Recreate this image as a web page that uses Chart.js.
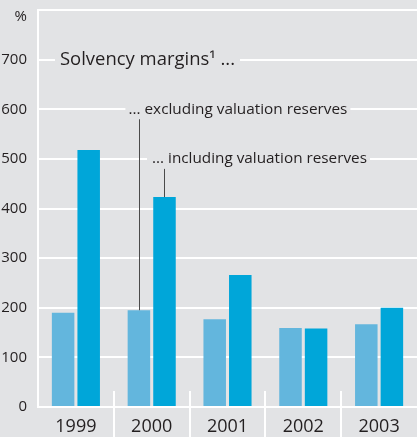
<!DOCTYPE html>
<html><head><meta charset="utf-8">
<script src="https://cdn.jsdelivr.net/npm/chart.js@4/dist/chart.umd.min.js"></script>
<style>html,body{margin:0;padding:0;background:#e2e3e5;overflow:hidden}</style>
</head><body>
<canvas id="c" width="417" height="437" style="display:block;width:417px;height:437px"></canvas>
<script>
const years = ['1999', '2000', '2001', '2002', '2003'];
const excludingReserves = [190, 195, 177, 159, 167];
const includingReserves = [518, 423, 266, 158, 200];
const yTickLabels = ['0', '100', '200', '300', '400', '500', '600', '700', ''];
const yUnitLabel = '%';
const titleText = 'Solvency margins\u00B9 ...';
const labelExcluding = '... excluding valuation reserves';
const labelIncluding = '... including valuation reserves';

const BG = '#e2e3e5';
const TXT = '#231f20';
const FONT = '"Open Sans", "Noto Sans", sans-serif';

function fittedText(ctx, text, x, yc, size, targetW) {
  ctx.save();
  ctx.font = size + 'px ' + FONT;
  const w = ctx.measureText(text).width;
  const s = targetW / w;
  ctx.translate(x, yc);
  ctx.scale(s, 1);
  ctx.fillStyle = TXT;
  ctx.textBaseline = 'middle';
  ctx.textAlign = 'left';
  ctx.fillText(text, 0, 0);
  ctx.restore();
}

const deco = {
  id: 'deco',
  beforeDraw(chart) {
    const ctx = chart.ctx;
    ctx.save();
    ctx.fillStyle = BG;
    ctx.fillRect(0, 0, chart.width, chart.height);
    ctx.restore();
  },
  afterDatasetsDraw(chart) {
    const { ctx, scales: { x, y }, chartArea } = chart;
    const y0 = y.getPixelForValue(0);
    ctx.save();
    ctx.strokeStyle = '#ffffff';
    ctx.lineWidth = 2;
    for (let i = 1; i < years.length; i++) {
      const bx = Math.round((x.getPixelForValue(i - 1) + x.getPixelForValue(i)) / 2);
      ctx.beginPath();
      ctx.moveTo(bx, y0 - 16);
      ctx.lineTo(bx, chart.height);
      ctx.stroke();
    }
    ctx.fillStyle = TXT;
    ctx.font = '15px ' + FONT;
    ctx.textAlign = 'right';
    ctx.textBaseline = 'middle';
    ctx.fillText(yUnitLabel, chartArea.left - 11, chartArea.top + 7);

    const barEx = chart.getDatasetMeta(0).data[1];
    const barIn = chart.getDatasetMeta(1).data[1];

    const yt = y.getPixelForValue(700);
    const tx = chartArea.left + 22;
    ctx.fillStyle = BG;
    ctx.fillRect(tx - 5, yt - 4, 185, 8);
    fittedText(ctx, titleText, tx, yt + 0.5, 17.5, 175);

    const ye = y.getPixelForValue(600);
    const ex = barEx.x - 10.5;
    ctx.fillStyle = BG;
    ctx.fillRect(ex - 3, ye - 4, 225, 8);
    fittedText(ctx, labelExcluding, ex, ye, 15, 219);

    const yi = y.getPixelForValue(500);
    const ix = barIn.x - 12.5;
    ctx.fillStyle = BG;
    ctx.fillRect(ix - 5, yi - 4, 223, 8);
    fittedText(ctx, labelIncluding, ix, yi, 15, 215);

    ctx.strokeStyle = '#4a4a4a';
    ctx.lineWidth = 1;
    ctx.beginPath();
    ctx.moveTo(Math.round(barEx.x) + 0.5, ye + 10);
    ctx.lineTo(Math.round(barEx.x) + 0.5, barEx.y);
    ctx.moveTo(Math.round(barIn.x) + 0.5, yi + 10);
    ctx.lineTo(Math.round(barIn.x) + 0.5, barIn.y);
    ctx.stroke();
    ctx.restore();
  }
};

new Chart(document.getElementById('c'), {
  type: 'bar',
  data: {
    labels: years,
    datasets: [
      { label: 'excluding valuation reserves', data: excludingReserves, backgroundColor: '#63b6dd', borderWidth: 0 },
      { label: 'including valuation reserves', data: includingReserves, backgroundColor: '#00a6d9', borderWidth: 0 }
    ]
  },
  options: {
    responsive: false,
    animation: false,
    devicePixelRatio: 1,
    categoryPercentage: 0.675,
    barPercentage: 0.88,
    layout: { padding: { top: 10, right: 0, left: 0, bottom: 0 } },
    plugins: { legend: { display: false }, tooltip: { enabled: false } },
    scales: {
      x: {
        grid: { display: false },
        border: { display: false },
        ticks: { color: TXT, font: { family: FONT, size: 18 }, padding: 1, maxRotation: 0 },
        afterFit(s) { s.height = 30; s.paddingLeft = 0; s.paddingRight = 0; }
      },
      y: {
        min: 0, max: 800,
        grid: { color: '#ffffff', lineWidth: 2, drawTicks: false },
        border: { display: true, color: '#ffffff', width: 2 },
        ticks: {
          stepSize: 100, padding: 11, color: TXT, font: { family: FONT, size: 15 },
          callback: (v) => yTickLabels[Math.round(v / 100)]
        },
        afterFit(s) { s.width = 38; s.paddingTop = 0; s.paddingBottom = 0; }
      }
    }
  },
  plugins: [deco]
});
</script>
</body></html>
